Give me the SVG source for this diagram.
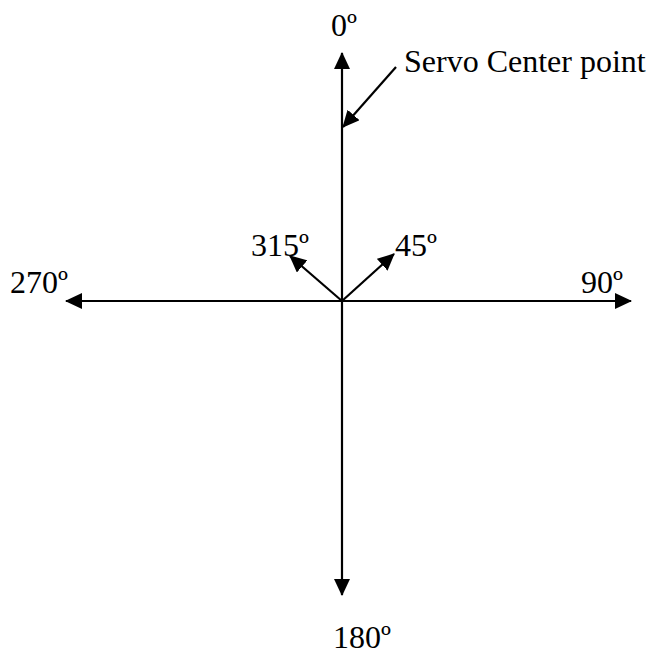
<svg xmlns="http://www.w3.org/2000/svg" width="646" height="657" viewBox="0 0 646 657">
<style>
.t{font-family:"Liberation Serif","Times New Roman",serif;font-size:32px;fill:#000}
.c line{stroke:#000;stroke-width:2.2;fill:none}
</style>
<defs>
<marker id="ah" viewBox="0 0 17 16" refX="16" refY="8" markerWidth="17" markerHeight="16" markerUnits="userSpaceOnUse" orient="auto">
<path d="M0,0 L17,8 L0,16 Z" fill="#000"/>
</marker>
</defs>
<rect width="646" height="657" fill="#fff"/>
<g id="connectors" class="c">
<line x1="342" y1="301" x2="342" y2="53" marker-end="url(#ah)"/>
<line x1="342" y1="301" x2="342" y2="595" marker-end="url(#ah)"/>
<line x1="342" y1="301" x2="631" y2="301" marker-end="url(#ah)"/>
<line x1="342" y1="301" x2="66" y2="301" marker-end="url(#ah)"/>
<line x1="342" y1="301" x2="394" y2="254" marker-end="url(#ah)"/>
<line x1="342" y1="301" x2="290" y2="256" marker-end="url(#ah)"/>
<line x1="396" y1="67" x2="343" y2="127" marker-end="url(#ah)"/>
</g>
<g id="label-0"><text class="t" x="331" y="36">0º</text></g>
<g id="label-servo"><text class="t" x="404" y="72">Servo Center point</text></g>
<g id="label-315"><text class="t" x="251" y="256">315º</text></g>
<g id="label-45"><text class="t" x="395" y="256">45º</text></g>
<g id="label-270"><text class="t" x="10" y="293">270º</text></g>
<g id="label-90"><text class="t" x="581" y="293">90º</text></g>
<g id="label-180"><text class="t" x="333" y="648">180º</text></g>
</svg>
